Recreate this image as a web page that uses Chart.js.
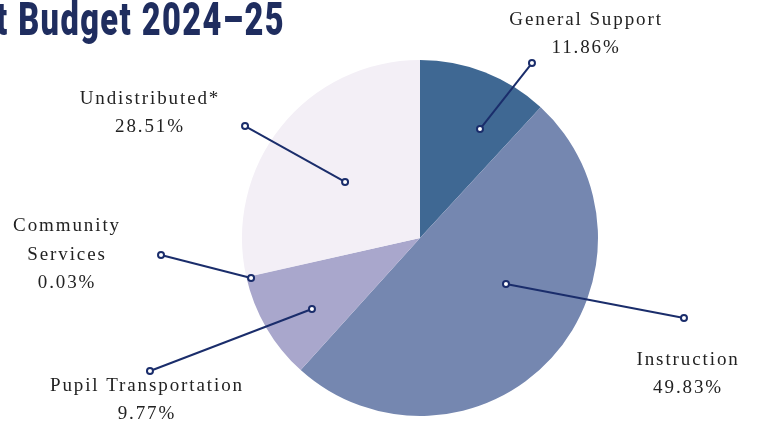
<!DOCTYPE html>
<html>
<head>
<meta charset="utf-8">
<script src="https://cdn.jsdelivr.net/npm/chart.js@4"></script>
<style>
  html, body { margin: 0; padding: 0; background: #fff; }
  #wrap { position: relative; width: 759px; height: 423px; }
</style>
</head>
<body>
<div id="wrap"><canvas id="budget_pie"></canvas></div>
<script>
var titleText = 't Budget 2024–25';
var categories = ['General Support', 'Instruction', 'Pupil Transportation', 'Community Services', 'Undistributed*'];
var shares = [11.86, 49.83, 9.77, 0.03, 28.51];
var labelLines = [
  ['General Support'],
  ['Instruction'],
  ['Pupil Transportation'],
  ['Community', 'Services'],
  ['Undistributed*']
];
var sliceColors = ['#3f6893', '#7587b0', '#a9a7cc', '#a9a7cc', '#f3eff6'];

// callout geometry, in units of the pie radius, relative to the pie centre
var callouts = [
  { from: [0.337, -0.612], to: [0.629, -0.983], text: [0.933, -1.225] },
  { from: [0.483, 0.258], to: [1.483, 0.449], text: [1.506, 0.685] },
  { from: [-0.607, 0.399], to: [-1.517, 0.747], text: [-1.534, 0.831] },
  { from: [-0.949, 0.225], to: [-1.455, 0.096], text: [-1.983, -0.065] },
  { from: [-0.421, -0.315], to: [-0.983, -0.629], text: [-1.517, -0.781] }
];

const calloutPlugin = {
  id: 'callouts',
  afterDraw(chart) {
    const ctx = chart.ctx;
    const arc = chart.getDatasetMeta(0).data[0];
    const cx = arc.x, cy = arc.y, R = arc.outerRadius;

    // title (cut off at the left edge, as in the original)
    ctx.save();
    ctx.font = '900 46px Roboto';
    ctx.letterSpacing = '2px';
    ctx.fillStyle = '#1f2d5f';
    ctx.textBaseline = 'alphabetic';
    var w = ctx.measureText(titleText).width;
    ctx.translate(-4, 35);
    ctx.scale(289 / w, 1);
    ctx.fillText(titleText, 0, 0);
    ctx.restore();

    for (var i = 0; i < callouts.length; i++) {
      var c = callouts[i];
      var x1 = cx + c.from[0] * R, y1 = cy + c.from[1] * R;
      var x2 = cx + c.to[0] * R, y2 = cy + c.to[1] * R;
      ctx.save();
      ctx.strokeStyle = '#1a2d6b';
      ctx.lineWidth = 2;
      ctx.beginPath();
      ctx.moveTo(x1, y1);
      ctx.lineTo(x2, y2);
      ctx.stroke();
      [[x1, y1], [x2, y2]].forEach(function (p) {
        ctx.beginPath();
        ctx.arc(p[0], p[1], 3, 0, Math.PI * 2);
        ctx.fillStyle = '#fff';
        ctx.fill();
        ctx.stroke();
      });

      var lines = labelLines[i].concat([shares[i].toFixed(2) + '%']);
      ctx.font = '19px "Liberation Serif"';
      ctx.letterSpacing = '1.9px';
      ctx.fillStyle = '#222';
      ctx.textAlign = 'center';
      ctx.textBaseline = 'middle';
      var tx = cx + c.text[0] * R, ty = cy + c.text[1] * R;
      for (var k = 0; k < lines.length; k++) {
        ctx.fillText(lines[k], tx, ty + k * 28.5);
      }
      ctx.restore();
    }
  }
};

const dataBudget = {
  labels: categories,
  datasets: [{
    data: shares,
    backgroundColor: sliceColors,
    borderWidth: 0
  }]
};

const configBudget = {
  type: 'pie',
  data: dataBudget,
  options: {
    responsive: false,
    animation: false,
    layout: {
      padding: { top: 60, bottom: 7, left: 242, right: 161 }
    },
    plugins: {
      legend: { display: false },
      tooltip: { enabled: false }
    }
  },
  plugins: [calloutPlugin]
};

const canvas = document.getElementById('budget_pie');
canvas.width = 759;
canvas.height = 423;
const budgetChart = new Chart(canvas, configBudget);
</script>
</body>
</html>
